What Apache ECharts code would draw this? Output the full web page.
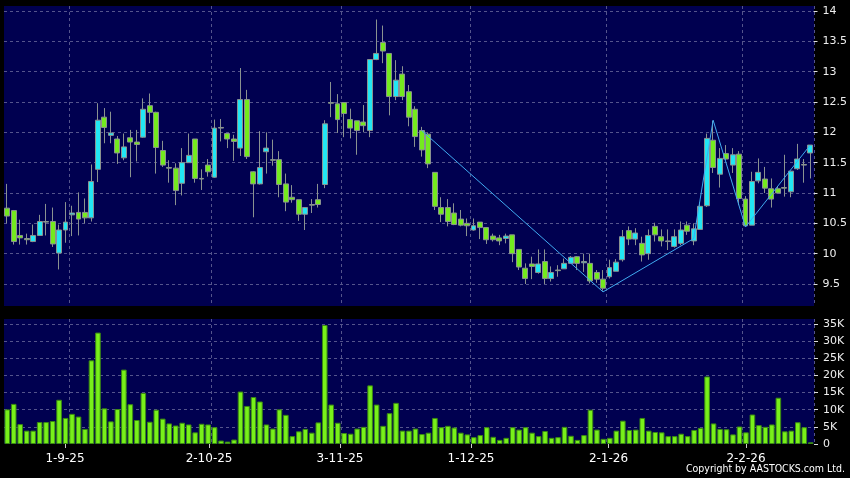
<!DOCTYPE html>
<html><head><meta charset="utf-8">
<script src="https://cdn.jsdelivr.net/npm/echarts@6/dist/echarts.min.js"></script>
<style>html,body{margin:0;padding:0;background:#000;}#c{width:850px;height:478px;}</style>
</head><body><div id="c"></div>
<script>
const dates = [
'19-8-25','20-8-25','21-8-25','22-8-25','25-8-25','26-8-25','27-8-25','28-8-25','29-8-25',
'1-9-25','2-9-25','3-9-25','4-9-25','5-9-25','8-9-25','9-9-25','10-9-25','11-9-25','12-9-25','15-9-25','16-9-25','17-9-25','18-9-25','19-9-25','22-9-25','23-9-25','24-9-25','25-9-25','26-9-25','29-9-25','30-9-25',
'2-10-25','3-10-25','6-10-25','8-10-25','9-10-25','10-10-25','13-10-25','14-10-25','15-10-25','16-10-25','17-10-25','20-10-25','21-10-25','22-10-25','23-10-25','24-10-25','27-10-25','28-10-25','30-10-25','31-10-25',
'3-11-25','4-11-25','5-11-25','6-11-25','7-11-25','10-11-25','11-11-25','12-11-25','13-11-25','14-11-25','17-11-25','18-11-25','19-11-25','20-11-25','21-11-25','24-11-25','25-11-25','26-11-25','27-11-25','28-11-25',
'1-12-25','2-12-25','3-12-25','4-12-25','5-12-25','8-12-25','9-12-25','10-12-25','11-12-25','12-12-25','15-12-25','16-12-25','17-12-25','18-12-25','19-12-25','22-12-25','23-12-25','24-12-25','29-12-25','30-12-25','31-12-25',
'2-1-26','5-1-26','6-1-26','7-1-26','8-1-26','9-1-26','12-1-26','13-1-26','14-1-26','15-1-26','16-1-26','19-1-26','20-1-26','21-1-26','22-1-26','23-1-26','26-1-26','27-1-26','28-1-26','29-1-26','30-1-26',
'2-2-26','3-2-26','4-2-26','5-2-26','6-2-26','9-2-26','10-2-26','11-2-26','12-2-26','13-2-26','16-2-26','20-2-26'
];
const opens = [
10.75,10.71,10.3,10.25,10.2,10.3,10.53,10.53,10.01,10.39,
10.64,10.68,10.68,10.59,11.39,12.25,11.95,11.89,11.58,11.91,
11.84,11.92,12.44,12.33,11.7,11.42,11.41,11.16,11.5,11.89,
11.24,11.46,11.26,12.08,11.98,11.89,11.74,12.54,11.35,11.15,
11.68,11.55,11.55,11.15,10.93,10.89,10.65,10.81,10.89,11.14,
12.49,12.47,12.49,12.21,12.19,12.17,12.03,13.2,13.48,13.3,
12.59,12.96,12.67,12.38,12.03,11.97,11.34,10.76,10.76,10.67,
10.57,10.5,10.39,10.52,10.43,10.29,10.26,10.25,10.31,10.07,
9.76,9.83,9.69,9.87,9.59,9.73,9.75,9.84,9.95,9.85,
9.84,9.69,9.58,9.62,9.71,9.9,10.38,10.24,10.17,10.0,
10.45,10.28,10.21,10.12,10.17,10.47,10.21,10.4,10.79,11.87,
11.31,11.65,11.46,11.64,10.9,10.47,11.2,11.23,11.07,11.07,
11.09,11.02,11.4,11.47,11.66];
const closes = [
10.62,10.2,10.26,10.23,10.3,10.53,10.52,10.16,10.39,10.52,
10.67,10.57,10.59,11.19,12.2,12.08,11.99,11.66,11.76,11.84,
11.8,12.38,12.33,11.75,11.46,11.41,11.04,11.5,11.62,11.24,
11.23,11.35,12.07,12.07,11.89,11.85,12.54,11.6,11.15,11.42,
11.74,11.54,11.14,10.85,10.89,10.65,10.76,10.8,10.81,12.14,
12.48,12.21,12.31,12.07,12.03,12.11,13.2,13.3,13.34,12.59,
12.86,12.59,12.25,11.93,11.71,11.48,10.78,10.65,10.53,10.48,
10.47,10.46,10.46,10.43,10.23,10.23,10.21,10.29,10.0,9.78,
9.59,9.79,9.83,9.59,9.69,9.72,9.84,9.94,9.84,9.87,
9.55,9.58,9.43,9.77,9.86,10.28,10.24,10.34,9.98,10.3,
10.31,10.21,10.2,10.28,10.39,10.37,10.41,10.78,11.9,11.42,
11.57,11.56,11.63,10.91,10.46,11.19,11.34,11.08,10.9,11.0,
11.08,11.36,11.56,11.46,11.79];
const lows = [
10.5,10.15,10.15,10.15,10.19,10.3,10.3,10.11,9.74,10.18,
10.29,10.3,10.5,10.53,11.18,11.82,11.82,11.48,11.54,11.26,
11.52,11.91,12.15,11.32,11.43,11.17,10.8,10.96,11.5,11.17,
11.05,11.27,11.25,11.85,11.74,11.53,11.61,11.56,10.6,11.14,
11.32,11.45,10.93,10.7,10.84,10.54,10.39,10.67,10.76,11.08,
12.25,11.99,11.92,11.9,11.63,12.0,11.92,13.19,13.14,12.28,
12.53,12.53,12.1,11.76,11.6,11.41,10.72,10.52,10.45,10.47,
10.45,10.29,10.38,10.24,10.16,10.2,10.14,10.17,9.86,9.73,
9.5,9.58,9.67,9.5,9.54,9.62,9.75,9.84,9.73,9.7,
9.51,9.52,9.39,9.59,9.71,9.87,10.14,10.14,9.87,9.9,
10.2,10.12,10.06,10.1,10.14,10.31,10.14,10.4,10.77,11.33,
11.09,11.54,11.33,10.8,10.44,10.47,11.16,11.0,10.76,10.99,
10.94,10.93,11.38,11.17,11.24];
const highs = [
11.15,10.72,10.56,10.33,10.48,10.64,10.82,10.76,10.48,10.85,
10.79,11.01,10.91,11.47,12.48,12.4,12.34,11.94,11.98,12.04,
12.04,12.56,12.64,12.34,11.86,11.54,11.49,11.74,11.98,11.89,
11.39,11.56,12.21,12.22,11.99,11.96,13.06,12.7,11.36,12.02,
12.0,11.88,11.69,11.32,11.13,10.89,10.76,10.9,11.15,12.2,
12.83,12.63,12.49,12.39,12.19,12.45,13.2,13.86,13.76,13.3,
13.19,13.09,12.78,12.43,12.09,12.0,11.34,10.93,10.9,10.83,
10.72,10.58,10.58,10.52,10.44,10.33,10.31,10.33,10.31,10.07,
9.84,9.95,10.07,10.07,9.79,9.81,9.92,9.96,9.96,10.0,
10.0,9.73,9.73,9.9,9.91,10.39,10.45,10.42,10.28,10.4,
10.51,10.4,10.4,10.4,10.53,10.53,10.5,10.85,11.98,12.19,
11.74,11.79,11.74,11.69,10.95,11.35,11.57,11.43,11.24,11.1,
11.63,11.36,11.81,11.56,11.79];
const volumesK = [
10.1,11.7,5.8,3.9,3.9,6.4,6.4,6.7,12.9,7.6,
8.8,8.0,4.4,24.4,32.5,10.4,6.6,10.2,21.7,11.6,
7.0,14.9,6.5,10.0,7.4,6.0,5.4,6.2,5.7,3.4,
5.9,5.7,4.9,1.0,0.7,1.3,15.3,11.1,13.7,12.4,
5.7,4.5,10.1,8.5,2.3,3.7,4.4,3.3,6.3,34.7,
11.5,6.2,3.2,3.0,4.5,5.0,17.1,11.5,5.3,9.0,
12.0,3.9,3.9,4.5,2.9,3.3,7.6,4.9,5.3,4.8,
3.3,2.8,2.0,2.6,4.9,2.1,1.2,1.8,4.9,4.2,
4.9,3.3,2.3,3.8,1.8,2.0,5.0,2.4,1.2,2.6,
10.0,4.2,1.5,1.8,3.9,6.8,4.1,4.2,7.6,3.9,
3.5,3.4,2.3,2.3,3.0,2.3,4.1,4.7,19.7,6.0,
4.4,4.3,2.8,5.1,3.4,8.6,5.5,5.0,5.7,13.5,
3.7,3.9,6.35,4.9,0.5];
const zigzagIdx = [64, 92, 106, 109, 114, 124];
const zigzagVal = [12.03, 9.37, 10.25, 12.2, 10.44, 11.79];
const priceMin = 9.5, priceMax = 14, priceStep = 0.5;
const volMax = 35000, volStep = 5000;
const copyrightText = 'Copyright by AASTOCKS.com Ltd.';

const month = d => d.split('-')[1];
const isMonthStart = i => i > 0 && month(dates[i]) !== month(dates[i - 1]);
const NAVY = '#000050';
const GRIDC = '#54548c';
const dashed = { color: GRIDC, type: [3, 3], width: 1 };

const chart = echarts.init(document.getElementById('c'), null, { renderer: 'canvas' });
const bgX = gi => ({
  type: 'category', gridIndex: gi, data: dates, boundaryGap: true,
  axisLine: { show: false }, axisTick: { show: false }, axisLabel: { show: false },
  splitLine: { show: true, interval: (i) => i > 0 && isMonthStart(i - 1), lineStyle: dashed }
});
chart.setOption({
  animation: false,
  backgroundColor: '#000',
  grid: [
    { left: 4, right: 36, top: 6, height: 300, show: true, backgroundColor: NAVY, borderWidth: 0 },
    { left: 4, right: 36, top: 319, height: 125, show: true, backgroundColor: NAVY, borderWidth: 0 },
    { left: 4, right: 36, top: 11, height: 273 },
    { left: 4, right: 36, top: 324, height: 120 },
    { left: 2.8, width: 818.5, top: 319, height: 125 }
  ],
  xAxis: [
    bgX(0), bgX(1),
    { type: 'category', gridIndex: 2, data: dates, show: false },
    { type: 'category', gridIndex: 3, data: dates, show: false },
    { type: 'category', gridIndex: 4, data: dates, position: 'bottom',
      axisLine: { show: false },
      axisTick: { show: true, alignWithLabel: true, interval: (i) => isMonthStart(i), length: 4, lineStyle: { color: '#cccccc' } },
      axisLabel: { show: true, interval: (i) => isMonthStart(i), color: '#ffffff', fontSize: 12, fontFamily: 'DejaVu Sans', margin: 9 },
      splitLine: { show: false } }
  ],
  yAxis: [
    { type: 'value', gridIndex: 0, show: false, min: 0, max: 1, splitLine: { show: false } },
    { type: 'value', gridIndex: 1, show: false, min: 0, max: 1, splitLine: { show: false } },
    { type: 'value', gridIndex: 2, position: 'right', min: priceMin, max: priceMax, interval: priceStep,
      axisLine: { show: false },
      axisTick: { show: true, length: 4, lineStyle: { color: '#dddddd' } },
      axisLabel: { color: '#eeeeee', fontSize: 11, fontFamily: 'DejaVu Sans', margin: 9 },
      splitLine: { show: true, lineStyle: dashed } },
    { type: 'value', gridIndex: 3, position: 'right', min: 0, max: volMax, interval: volStep,
      axisLine: { show: false },
      axisTick: { show: true, length: 4, lineStyle: { color: '#dddddd' } },
      axisLabel: { color: '#eeeeee', fontSize: 11, fontFamily: 'DejaVu Sans', margin: 9,
        formatter: v => v === 0 ? '0' : (v / 1000) + 'K' },
      splitLine: { show: true, showMinLine: false, lineStyle: dashed } },
    { type: 'value', gridIndex: 4, show: false, splitLine: { show: false } }
  ],
  series: [
    { type: 'candlestick', xAxisIndex: 2, yAxisIndex: 2, clip: false, barWidth: '84%',
      data: dates.map((d, i) => [opens[i], closes[i], lows[i], highs[i]]),
      itemStyle: { color: '#22e6f4', color0: '#74ea1e', borderColor: '#8a9290', borderColor0: '#8a9290', borderWidth: 1 } },
    { type: 'line', xAxisIndex: 2, yAxisIndex: 2, clip: false, symbol: 'none', z: 5,
      data: zigzagIdx.map((x, i) => [dates[x], zigzagVal[i]]),
      lineStyle: { color: '#40aaf0', width: 1 } },
    { type: 'bar', xAxisIndex: 3, yAxisIndex: 3, barCategoryGap: '14%',
      data: volumesK.map(v => v * 1000),
      itemStyle: { color: '#78f01a', borderColor: '#3a8a12', borderWidth: 1 } }
  ],
  graphic: [
    { type: 'text', right: 5, top: 464,
      style: { text: copyrightText, fill: '#ffffff', font: '10.5px "DejaVu Sans Condensed", "DejaVu Sans"' } }
  ]
});
</script></body></html>
